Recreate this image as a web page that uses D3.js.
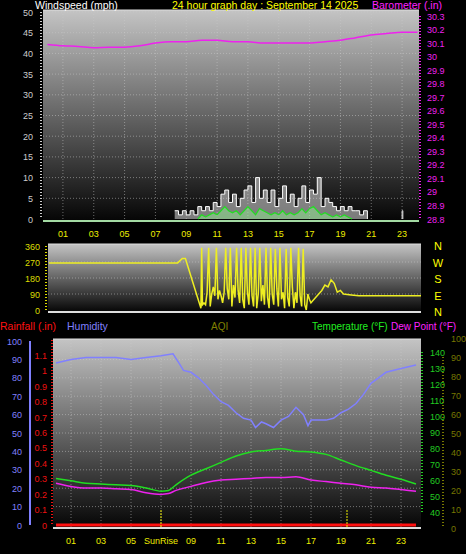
<!DOCTYPE html>
<html><head><meta charset="utf-8">
<script src="https://cdn.jsdelivr.net/npm/d3@7"></script>
<style>body{margin:0;background:#000}svg{display:block;font-family:"Liberation Sans",Arial,sans-serif}</style>
</head><body><svg id="c" width="466" height="554"></svg>
<script>
// ---- data ----
const hourLabels = ["01","03","05","07","09","11","13","15","17","19","21","23"];
const baroT = [0,1,2,3,4,5,6,7,8,9,10,11,12,13,14,15,16,17,18,19,20,21,22,23,24];
const baroV = [30.09,30.08,30.075,30.065,30.07,30.07,30.08,30.1,30.11,30.11,30.12,30.12,30.11,30.11,30.1,30.1,30.1,30.1,30.11,30.12,30.14,30.16,30.17,30.18,30.18];
const gustT = [8.25,8.5,8.75,9,9.25,9.5,9.75,10,10.25,10.5,10.75,11,11.25,11.5,11.75,12,12.25,12.5,12.75,13,13.25,13.5,13.75,14,14.25,14.5,14.75,15,15.25,15.5,15.75,16,16.25,16.5,16.75,17,17.25,17.5,17.75,18,18.25,18.5,18.75,19,19.25,19.5,19.75,20,20.25,20.5,20.75];
const gustV = [2,1,2,1,2,1,3,2,3,2,4,3,6,7,4,6,3,5,7,8,4,10,5,7,4,7,3,5,8,4,6,3,5,8,4,7,6,10,3,5,4,3,2,3,2,3,2,2,1,2,0];
const speedT = [9.75,10,10.25,10.5,10.75,11,11.25,11.5,11.75,12,12.25,12.5,12.75,13,13.25,13.5,13.75,14,14.25,14.5,14.75,15,15.25,15.5,15.75,16,16.25,16.5,16.75,17,17.25,17.5,17.75,18,18.25,18.5,18.75,19,19.25,19.5,19.75];
const speedV = [0,1,0.5,1,1.5,1,2,3,2,1.5,2,1,2,3,2,1,2.5,2,1.5,1,1.5,1,2,1,1.5,1,1.5,2.5,1.5,2.5,3,2,1,1.5,1,0.5,1,0.5,1,0.5,0];
const dirT = [0,8.3,8.6,8.8,9.8,9.85,9.9,10,10.1,10.2,10.3,10.4,10.5,10.6,10.7,10.8,10.9,11,11.1,11.2,11.3,11.4,11.5,11.6,11.7,11.8,11.9,12,12.1,12.2,12.3,12.4,12.5,12.6,12.7,12.8,12.9,13,13.1,13.2,13.3,13.4,13.5,13.6,13.7,13.8,13.9,14,14.1,14.2,14.3,14.4,14.5,14.6,14.7,14.8,14.9,15,15.1,15.2,15.3,15.4,15.5,15.6,15.7,15.8,15.9,16,16.1,16.2,16.3,16.4,16.5,16.6,16.7,16.8,16.9,17,17.2,17.4,17.6,17.8,18,18.2,18.4,18.6,18.8,19,19.5,20,24];
const dirV = [265,265,290,290,10,350,30,40,30,100,350,20,90,130,80,350,60,110,80,40,100,350,120,60,350,20,140,70,350,110,40,350,60,10,350,100,30,350,80,20,350,10,90,350,50,140,30,350,70,10,350,90,30,345,120,20,350,60,100,10,345,70,20,350,130,10,100,40,350,80,20,345,30,0,90,60,40,50,70,90,110,140,130,170,150,100,110,90,85,80,80,80];
const humT = [0,0.5,1,2,3,4,5,6,7,7.8,8.2,8.5,9,9.5,10,10.5,11,11.5,12,12.5,13,13.3,13.7,14,14.5,15,15.5,16,16.5,16.8,17,18,18.5,19,19.5,20,20.5,21,21.5,22,23,24];
const humV = [88,89,90,91,91,91,90,91,92,93,88,84,83,80,76,71,67,65,61,58,57,53,56,55,53,57,59,64,60,54,57,57,58,61,63,66,71,77,80,83,85,87];
const tempT = [0,1,2,3,4,5,6,7,7.5,8,9,10,11,12,13,14,15,16,17,18,19,20,21,22,23,24];
const tempV = [61,59.5,58,57.5,57,56.5,55,53,53.5,57,63,67,71,75,77.5,78.5,79.5,78,77.5,76,72.5,69,66,63,60.5,57.5];
const dewT = [0,1,2,3,4,5,6,7,7.5,8,9,10,11,12,13,14,15,16,17,18,19,20,21,22,23,24];
const dewV = [58,56,55,55,54.5,54,52,51,51.5,53.5,56,58.5,60,60.5,61,61.5,61.5,62,60,59,58,57,55.5,55,54,53];
const rainT = [0,24];
const rainV = [0,0];
const sunTimes = [7.0,19.4];

const svg = d3.select("#c");
const defs = svg.append("defs");
const g = defs.append("linearGradient").attr("id","bg").attr("x1",0).attr("y1",0).attr("x2",0).attr("y2",1);
g.append("stop").attr("offset","0").attr("stop-color","#c4c4c4");
g.append("stop").attr("offset","1").attr("stop-color","#050505");

function txt(x,y,s,col,size,anchor){
  return svg.append("text").attr("x",x).attr("y",y).text(s).attr("fill",col)
    .attr("font-size",size||10).attr("text-anchor",anchor||"start");
}
function panel(x0,x1,y0,y1){
  svg.append("rect").attr("x",x0).attr("y",y0).attr("width",x1-x0).attr("height",y1-y0).attr("fill","url(#bg)");
  svg.append("line").attr("x1",x0).attr("x2",x1).attr("y1",y0).attr("y2",y0).attr("stroke","#ddd");
  svg.append("line").attr("x1",x0).attr("x2",x1).attr("y1",y1).attr("y2",y1).attr("stroke","#ddd").attr("stroke-width",2);
}
function vgrid(x,y0,y1){
  [1,3,5,7,9,11,13,15,17,19,21,23].forEach(h=>{
    svg.append("line").attr("x1",x(h)).attr("x2",x(h)).attr("y1",y0).attr("y2",y1)
      .attr("stroke","#ccc").attr("stroke-opacity",0.5).attr("stroke-dasharray","1,2");
  });
}
function hgrid(y,vals,x0,x1){
  vals.forEach(v=>svg.append("line").attr("x1",x0).attr("x2",x1).attr("y1",y(v)).attr("y2",y(v))
    .attr("stroke","#ccc").attr("stroke-opacity",0.5).attr("stroke-dasharray","1,2"));
}
function axisTicks(scale,vals,xLine,col,labelX,anchor,fmt,minor){
  svg.append("line").attr("x1",xLine).attr("x2",xLine).attr("y1",scale.range()[1]).attr("y2",scale.range()[0]).attr("stroke",col).attr("stroke-width",2).attr("stroke-dasharray",minor?"1,2":null);
  vals.forEach(v=>{
    txt(labelX,scale(v)+3.5,fmt?fmt(v):v,col,9,anchor);
  });
}
const line = (x,y)=>d3.line().x(d=>x(d[0])).y(d=>y(d[1]));
const zip = (a,b)=>a.map((t,i)=>[t,b[i]]);

// ---- top panel: wind + barometer ----
const x1 = d3.scaleLinear().domain([0,24]).range([47.5,417.5]);
const yW = d3.scaleLinear().domain([0,50]).range([219,12]);
const yB = d3.scaleLinear().domain([28.8,30.3]).range([219,16]);
panel(43,419,10,221);
vgrid(x1,11,219);
hgrid(yW,d3.range(5,55,5),43,419);
svg.append("path").datum(zip(gustT,gustV)).attr("d",d3.area().x(d=>x1(d[0])).y0(yW(0)).y1(d=>yW(d[1])).curve(d3.curveStepAfter)).attr("fill","#ddd").attr("fill-opacity",0.55);
svg.append("path").datum(zip(gustT,gustV)).attr("d",line(x1,yW).curve(d3.curveStepAfter)).attr("fill","none").attr("stroke","#fff");
svg.append("path").datum([[23,0],[23,2],[23.05,2],[23.05,0]]).attr("d",line(x1,yW)).attr("fill","none").attr("stroke","#ddd");
svg.append("path").datum(zip(speedT,speedV)).attr("d",d3.area().x(d=>x1(d[0])).y0(yW(0)).y1(d=>yW(d[1]))).attr("fill","#90ee90").attr("fill-opacity",0.5);
svg.append("path").datum(zip(speedT,speedV)).attr("d",line(x1,yW)).attr("fill","none").attr("stroke","#22dd22").attr("stroke-width",1.2);
svg.append("line").attr("x1",43).attr("x2",419).attr("y1",yW(0)+2).attr("y2",yW(0)+2).attr("stroke","#8fd88f").attr("stroke-width",1.5);
svg.append("path").datum(zip(baroT,baroV)).attr("d",line(x1,yB).curve(d3.curveMonotoneX)).attr("fill","none").attr("stroke","#ee22ee").attr("stroke-width",1.5);
axisTicks(yW,d3.range(0,55,5),41,"#ccc",33,"end",null,true);
axisTicks(yB,[28.8,28.9,29,29.1,29.2,29.3,29.4,29.5,29.6,29.7,29.8,29.9,30,30.1,30.2,30.3],420,"#ee22ee",427,"start",v=>+v.toFixed(1),true);
hourLabels.forEach(h=>txt(x1(+h),237,h,"#eeee00",9,"middle"));
txt(35,9,"Windspeed (mph)","#fff",10.5);
txt(172,9,"24 hour graph day : September 14 2025","#ffff00",10.5);
txt(372,9,"Barometer (.in)","#ff22ff",10.5);

// ---- middle panel: wind direction ----
const x2 = d3.scaleLinear().domain([0,24]).range([49,421]);
const yD = d3.scaleLinear().domain([0,360]).range([310,246]);
panel(48,421,244,312);
hgrid(yD,[90,180,270],48,421);
svg.append("path").datum(zip(dirT,dirV)).attr("d",line(x2,yD)).attr("fill","none").attr("stroke","#eeee22").attr("stroke-width",1.5);
axisTicks(yD,[0,90,180,270,360],46,"#dddd00",40,"end",null,true);
["N","W","S","E","N"].forEach((s,i)=>txt(438,250+i*16.5,s,"#ffff00",11,"middle"));

// ---- bottom panel ----
const x3 = d3.scaleLinear().domain([0,24]).range([56,416]);
const yH = d3.scaleLinear().domain([0,100]).range([525,341]);
const yR = d3.scaleLinear().domain([0,1.2]).range([525,340]);
const yT = d3.scaleLinear().domain([40,140]).range([512,352]);
const yA = d3.scaleLinear().domain([0,90]).range([528,357]);
panel(53,421,339,528);
vgrid(x3,340,527);
hgrid(yH,d3.range(10,100,10),53,421);
svg.append("path").datum(zip(humT,humV)).attr("d",line(x3,yH)).attr("fill","none").attr("stroke","#8080ff").attr("stroke-width",1.5);
svg.append("path").datum(zip(tempT,tempV)).attr("d",line(x3,yT).curve(d3.curveMonotoneX)).attr("fill","none").attr("stroke","#22dd22").attr("stroke-width",1.5);
svg.append("path").datum(zip(dewT,dewV)).attr("d",line(x3,yT).curve(d3.curveMonotoneX)).attr("fill","none").attr("stroke","#ee22ee").attr("stroke-width",1.5);
svg.append("path").datum(zip(rainT,rainV)).attr("d",line(x3,yR)).attr("fill","none").attr("stroke","#ff1111").attr("stroke-width",3);
sunTimes.forEach(t=>svg.append("line").attr("x1",x3(t)).attr("x2",x3(t)).attr("y1",510).attr("y2",527).attr("stroke","#eeee00").attr("stroke-dasharray","2,1"));
axisTicks(yH,d3.range(0,110,10),30,"#8080ff",22,"end",null,false);
axisTicks(yR,[0,0.1,0.2,0.3,0.4,0.5,0.6,0.7,0.8,0.9,1,1.1],52,"#ee1111",47,"end",v=>+v.toFixed(1),true);
axisTicks(yT,d3.range(40,150,10),422,"#22cc22",430,"start",null,true);
axisTicks(yA,d3.range(0,100,10),443,"#777700",451,"start",null,true);
txt(451,yA(100)+3.5,"100","#777700",9);
hourLabels.forEach(h=>{ if(h!=="07") txt(x3(+h),544,h,"#eeee00",9,"middle"); });
txt(x3(sunTimes[0]),544,"SunRise","#eeee00",9,"middle");
txt(0,330,"Rainfall (.in)","#ff1111",10.5);
txt(67,330,"Humidity","#8080ff",10.5);
txt(211,330,"AQI","#808000",10);
txt(312,330,"Temperature (°F)","#22ee22",10);
txt(391,330,"Dew Point (°F)","#ff22ff",10);
</script></body></html>
